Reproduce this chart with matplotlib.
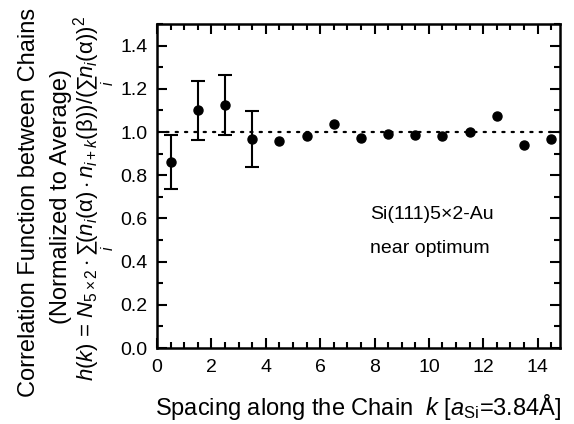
import numpy as np
import matplotlib
matplotlib.use("Agg")
import matplotlib.pyplot as plt
from matplotlib.ticker import MultipleLocator

plt.rcParams['font.family'] = ['Liberation Sans', 'DejaVu Sans']
plt.rcParams['mathtext.fontset'] = 'custom'
plt.rcParams['mathtext.rm'] = 'Liberation Sans'
plt.rcParams['mathtext.it'] = 'Liberation Sans:italic'
plt.rcParams['mathtext.bf'] = 'Liberation Sans:bold'

# data
k = [0.5, 1.5, 2.5, 3.5, 4.5, 5.5, 6.5, 7.5, 8.5, 9.5, 10.5, 11.5, 12.5, 13.5, 14.5]
h = [0.86, 1.10, 1.125, 0.968, 0.957, 0.982, 1.038, 0.972, 0.993, 0.986, 0.982, 0.998, 1.072, 0.942, 0.967]
k_err = [0.5, 1.5, 2.5, 3.5]
h_err_vals = [0.86, 1.10, 1.125, 0.968]
err = [0.125, 0.138, 0.138, 0.128]

fig = plt.figure(figsize=(5.74, 4.24), dpi=100)
ax = fig.add_axes([0.2735, 0.1792, 0.702, 0.7642])

ax.axhline(1.0, color='black', lw=1.6, linestyle=(0, (1, 3.2)), dash_capstyle='round', zorder=1)
ax.errorbar(k_err, h_err_vals, yerr=err, fmt='none', ecolor='black', elinewidth=1.5,
            capsize=4.8, capthick=1.5, zorder=2)
ax.plot(k, h, 'o', color='black', markersize=6.5, zorder=3)

ax.set_xlim(0, 14.82)
ax.set_ylim(0, 1.5)
ax.xaxis.set_major_locator(MultipleLocator(2))
ax.xaxis.set_minor_locator(MultipleLocator(0.5))
ax.yaxis.set_minor_locator(MultipleLocator(0.1))
ax.set_yticks([0.0, 0.2, 0.4, 0.6, 0.8, 1.0, 1.2, 1.4])
ax.set_yticklabels(['0.0', '0.2', '0.4', '0.6', '0.8', '1.0', '1.2', '1.4'])
ax.tick_params(which='both', direction='in', top=True, right=True, width=1.5, labelsize=14)
ax.tick_params(which='major', length=7)
ax.tick_params(axis='y', which='major', pad=7)
ax.tick_params(axis='x', which='major', pad=8)
ax.tick_params(which='minor', length=4)
for s in ax.spines.values():
    s.set_linewidth(1.8)

ax.text(7.85, 0.62, 'Si(111)5×2-Au', fontsize=14, va='center')
ax.text(7.85, 0.46, 'near optimum', fontsize=14, va='center')

fig.text(358 / 574, 1 - 407 / 424, r'Spacing along the Chain  $k$ [$a_{\mathrm{Si}}$=3.84Å]',
         fontsize=17, ha='center', va='center')

fig.text(29 / 574, 1 - 202 / 424, 'Correlation Function between Chains', rotation=90,
         fontsize=17, ha='center', va='center')
fig.text(61 / 574, 1 - 197 / 424, '(Normalized to Average)', rotation=90,
         fontsize=17, ha='center', va='center')
fig.text(95 / 574, 1 - 198 / 424,
         r'$h(k)$ = $N_{5\times2}\cdot\sum_i(n_i(\mathrm{\alpha})\cdot n_{i+k}(\mathrm{\beta}))/(\sum_i n_i(\mathrm{\alpha}))^2$',
         rotation=90, fontsize=16, ha='center', va='center')

fig.savefig('out.png', dpi=100)
